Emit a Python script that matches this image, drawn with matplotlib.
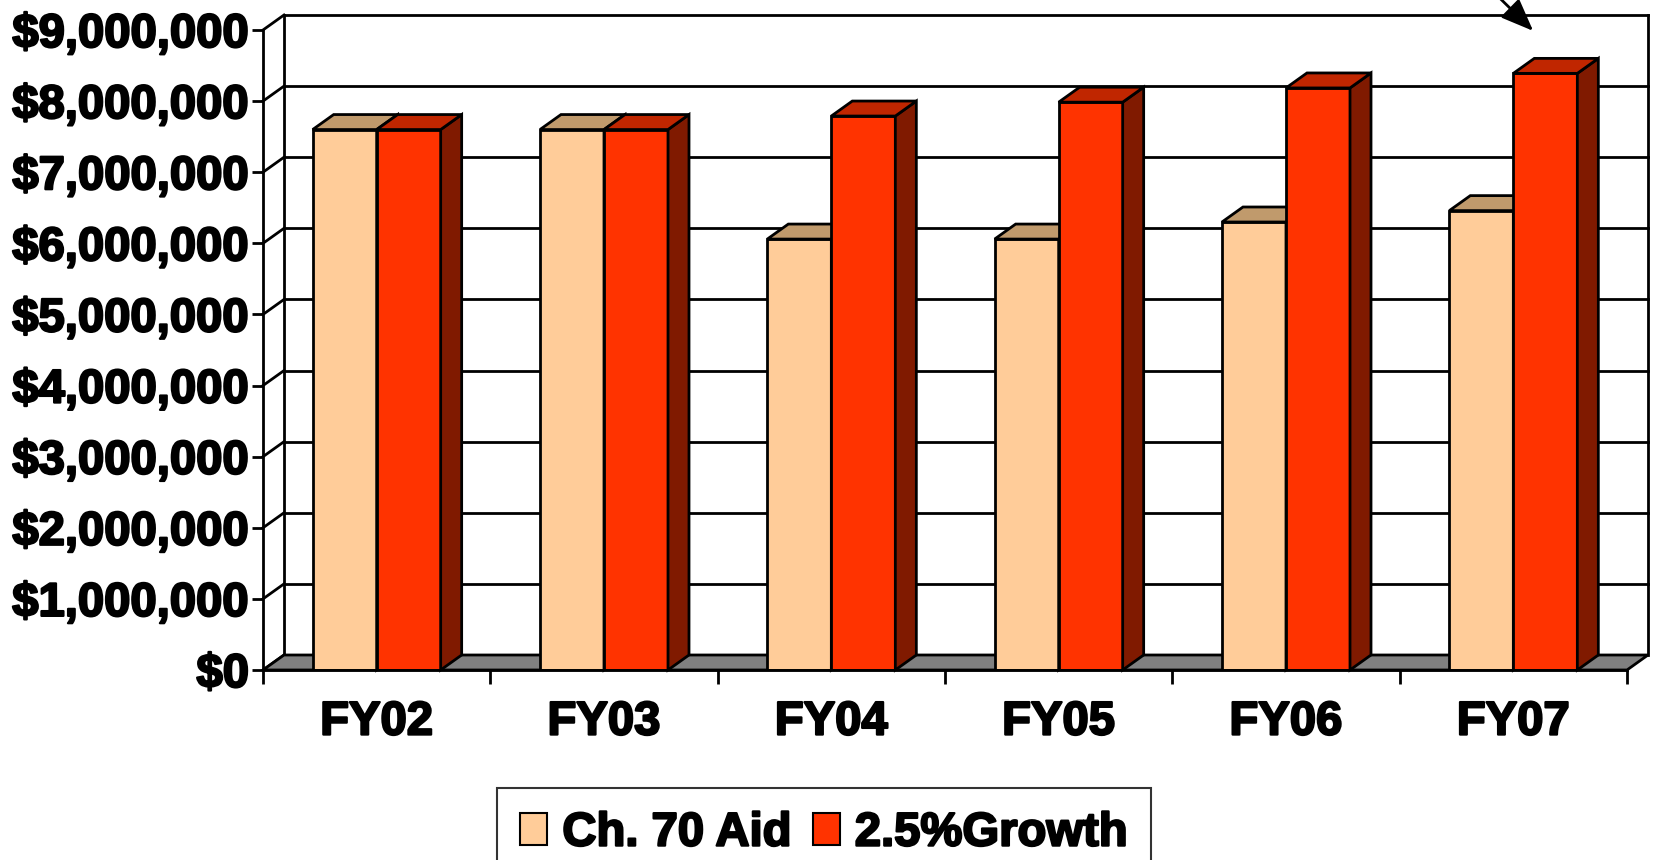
import matplotlib
matplotlib.use("Agg")
import matplotlib.pyplot as plt
import matplotlib.patheffects as pe
from matplotlib.patches import Polygon, Patch
from matplotlib.ticker import FuncFormatter

plt.rcParams['font.family'] = ['Liberation Sans', 'DejaVu Sans']
plt.rcParams['font.weight'] = 'bold'
FS = 34
# the source text is heavier than a plain bold face
HEAVY = [pe.withStroke(linewidth=1.6, foreground="black")]

categories = ["FY02", "FY03", "FY04", "FY05", "FY06", "FY07"]
ch70_aid = [7600000, 7600000, 6060000, 6060000, 6300000, 6460000]
growth = [7600000, 7600000, 7790000, 7985000, 8185000, 8390000]
series_names = ["Ch. 70 Aid", "2.5%Growth"]

# face colours: front, top, side
PEACH = ("#FFCC99", "#C09A6C", "#806648")
RED = ("#FF3300", "#C02600", "#801A00")
FLOOR = "#808080"

W, H = 1653, 860
fig = plt.figure(figsize=(W / 100, H / 100), dpi=100)
# front plane of the 3d box
left_px, right_px, top_px, bot_px = 263, 1627, 30, 670
ax = fig.add_axes([left_px / W, 1 - bot_px / H, (right_px - left_px) / W, (bot_px - top_px) / H])

n = len(categories)
ymax = 9000000
ax.set_xlim(-0.5, n - 0.5)
ax.set_ylim(0, ymax)

# depth offset, in data units
px_per_cat = (right_px - left_px) / n
px_per_val = (bot_px - top_px) / ymax
dx = 21 / px_per_cat
dy = 15 / px_per_val

LW = 2.0
bw = 64 / px_per_cat

# back wall + left wall
x0, x1 = -0.5, n - 0.5
for v in range(0, ymax + 1, 1000000):
    if v > 0:
        ax.plot([x0 + dx, x1 + dx], [v + dy, v + dy], color="black", lw=LW, clip_on=False, zorder=1)
    ax.plot([x0, x0 + dx], [v, v + dy], color="black", lw=LW, clip_on=False, zorder=1)
ax.plot([x0 + dx, x0 + dx], [dy, ymax + dy], color="black", lw=LW, clip_on=False, zorder=1)
ax.plot([x1 + dx, x1 + dx], [dy, ymax + dy], color="black", lw=LW, clip_on=False, zorder=1)

# floor
ax.add_patch(Polygon([(x0, 0), (x1, 0), (x1 + dx, dy), (x0 + dx, dy)], closed=True,
                     facecolor=FLOOR, edgecolor="black", lw=LW, clip_on=False, zorder=2))


def draw_bar(xl, h, cols, z):
    ax.bar(xl, h, width=bw, align="edge", color=cols[0], edgecolor="black", linewidth=LW, zorder=z)
    top = [(xl, h), (xl + bw, h), (xl + bw + dx, h + dy), (xl + dx, h + dy)]
    side = [(xl + bw, 0), (xl + bw, h), (xl + bw + dx, h + dy), (xl + bw + dx, dy)]
    ax.add_patch(Polygon(side, closed=True, facecolor=cols[2], edgecolor="black", lw=LW, clip_on=False, zorder=z))
    ax.add_patch(Polygon(top, closed=True, facecolor=cols[1], edgecolor="black", lw=LW, clip_on=False, zorder=z))


for i in range(n):
    draw_bar(i - bw, ch70_aid[i], PEACH, 3 + 2 * i)
    draw_bar(i, growth[i], RED, 4 + 2 * i)

# axes
for s in ["top", "right"]:
    ax.spines[s].set_visible(False)
for s in ["left", "bottom"]:
    ax.spines[s].set_linewidth(LW)
    ax.spines[s].set_zorder(20)
ax.set_facecolor("none")

ax.set_yticks(range(0, ymax + 1, 1000000))
ax.yaxis.set_major_formatter(FuncFormatter(lambda v, p: "${:,.0f}".format(v)))
ax.tick_params(axis="y", length=8, width=LW, pad=2, labelsize=FS)

ax.set_xticks(range(n))
ax.set_xticklabels(categories)
ax.set_xticks([i - 0.5 for i in range(n + 1)], minor=True)
ax.tick_params(axis="x", which="major", length=0, pad=22, labelsize=FS)
ax.tick_params(axis="x", which="minor", length=10, width=LW)

for t in ax.get_xticklabels() + ax.get_yticklabels():
    t.set_path_effects(HEAVY)

# arrow from above pointing at FY07
ax.annotate("", xy=(5.096, 8.96e6), xytext=(4.86, 9.7e6), annotation_clip=False,
            arrowprops=dict(arrowstyle="-|>,head_length=2.0,head_width=0.8", color="black", lw=2))

handles = [Patch(facecolor=PEACH[0], edgecolor="black", lw=1.5),
           Patch(facecolor=RED[0], edgecolor="black", lw=1.5)]
leg = fig.legend(handles, series_names, loc="upper center", bbox_to_anchor=(824 / W, 1 - 788 / H),
                 ncol=2, fontsize=FS, frameon=True, fancybox=False, edgecolor="black",
                 handlelength=0.57, handleheight=0.64, handletextpad=0.32, columnspacing=0.45,
                 borderpad=0.5, borderaxespad=0)
leg.get_frame().set_linewidth(1.5)
for t in leg.get_texts():
    t.set_path_effects(HEAVY)

fig.savefig("out.png", dpi=100)
